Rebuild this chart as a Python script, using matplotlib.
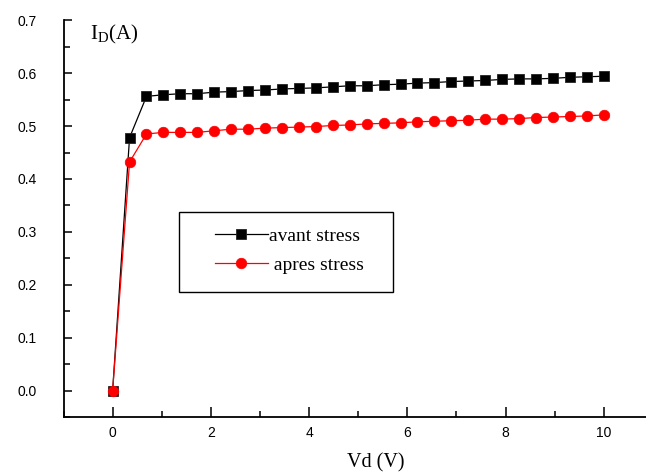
import numpy as np
import matplotlib

matplotlib.use("Agg")
import matplotlib.pyplot as plt
from matplotlib.patches import Rectangle
from matplotlib.ticker import MultipleLocator

# Vd (V): 30 points from 0 to 10
vd = np.linspace(0, 10, 30)

# I_D (A) before and after stress
id_avant = [0.000, 0.478, 0.556, 0.559, 0.561, 0.561, 0.564, 0.565, 0.567, 0.568,
            0.570, 0.571, 0.572, 0.574, 0.576, 0.576, 0.578, 0.579, 0.581, 0.582,
            0.584, 0.585, 0.586, 0.588, 0.589, 0.589, 0.590, 0.592, 0.593, 0.594]
id_apres = [0.000, 0.432, 0.485, 0.488, 0.488, 0.488, 0.491, 0.494, 0.494, 0.496,
            0.497, 0.498, 0.499, 0.501, 0.502, 0.504, 0.505, 0.506, 0.508, 0.509,
            0.510, 0.511, 0.513, 0.513, 0.514, 0.516, 0.517, 0.518, 0.519, 0.521]

labels = ["avant stress", " apres stress"]

SERIF = "Liberation Serif"
SANS = "Liberation Sans"

fig = plt.figure(figsize=(6.46, 4.74), dpi=100)
ax = fig.add_axes([0.0983, 0.1196, 0.9017, 0.838])

l1, = ax.plot(vd, id_avant, color="black", lw=0.9, marker="s", ms=6.6,
              mfc="black", mec="#222222", mew=0.6)
l2, = ax.plot(vd, id_apres, color="red", lw=0.9, marker="o", ms=7.6,
              mfc="red", mec="red", mew=0.5)

ax.set_xlim(-1, 10.86)
ax.set_ylim(-0.05, 0.7)

for side in ("top", "right"):
    ax.spines[side].set_visible(False)
for side in ("left", "bottom"):
    ax.spines[side].set_linewidth(1.3)

ax.xaxis.set_major_locator(MultipleLocator(2))
ax.xaxis.set_minor_locator(MultipleLocator(1))
ax.yaxis.set_major_locator(MultipleLocator(0.1))
ax.yaxis.set_minor_locator(MultipleLocator(0.05))
ax.yaxis.set_major_formatter(matplotlib.ticker.FormatStrFormatter("%.1f"))

ax.tick_params(axis="both", which="both", direction="in", top=False, right=False, width=1.1)
ax.tick_params(axis="x", which="major", length=7, pad=6)
ax.tick_params(axis="x", which="minor", length=4)
ax.tick_params(axis="y", which="major", length=6, pad=19)
ax.tick_params(axis="y", which="minor", length=4)
for lab in ax.get_xticklabels() + ax.get_yticklabels():
    lab.set_fontfamily(SANS)
    lab.set_fontsize(10)

# x label sits right of centre in the reference, close to the bottom edge
ax.set_xlabel("Vd (V)", fontfamily=SERIF, fontsize=14.5)
ax.xaxis.set_label_coords(0.5365, -0.091)
ax.text(0.045, 0.965, r"I$_\mathregular{D}$(A)", transform=ax.transAxes,
        fontfamily=SERIF, fontsize=15, va="center", ha="left")

# legend: frame drawn separately so its size matches the reference box
ax.add_patch(Rectangle((0.1988, 0.3146), 0.3664, 0.2014, transform=ax.transAxes,
                       fill=False, edgecolor="black", lw=1.0, zorder=5))
ax.legend([l1, l2], labels, loc="center left", bbox_to_anchor=(0.260, 0.420),
          frameon=False, borderpad=0, borderaxespad=0, numpoints=1,
          handlelength=2.73, handletextpad=0.05, labelspacing=0.57,
          prop={"family": SERIF, "size": 14})

fig.savefig("out.png", dpi=100)
